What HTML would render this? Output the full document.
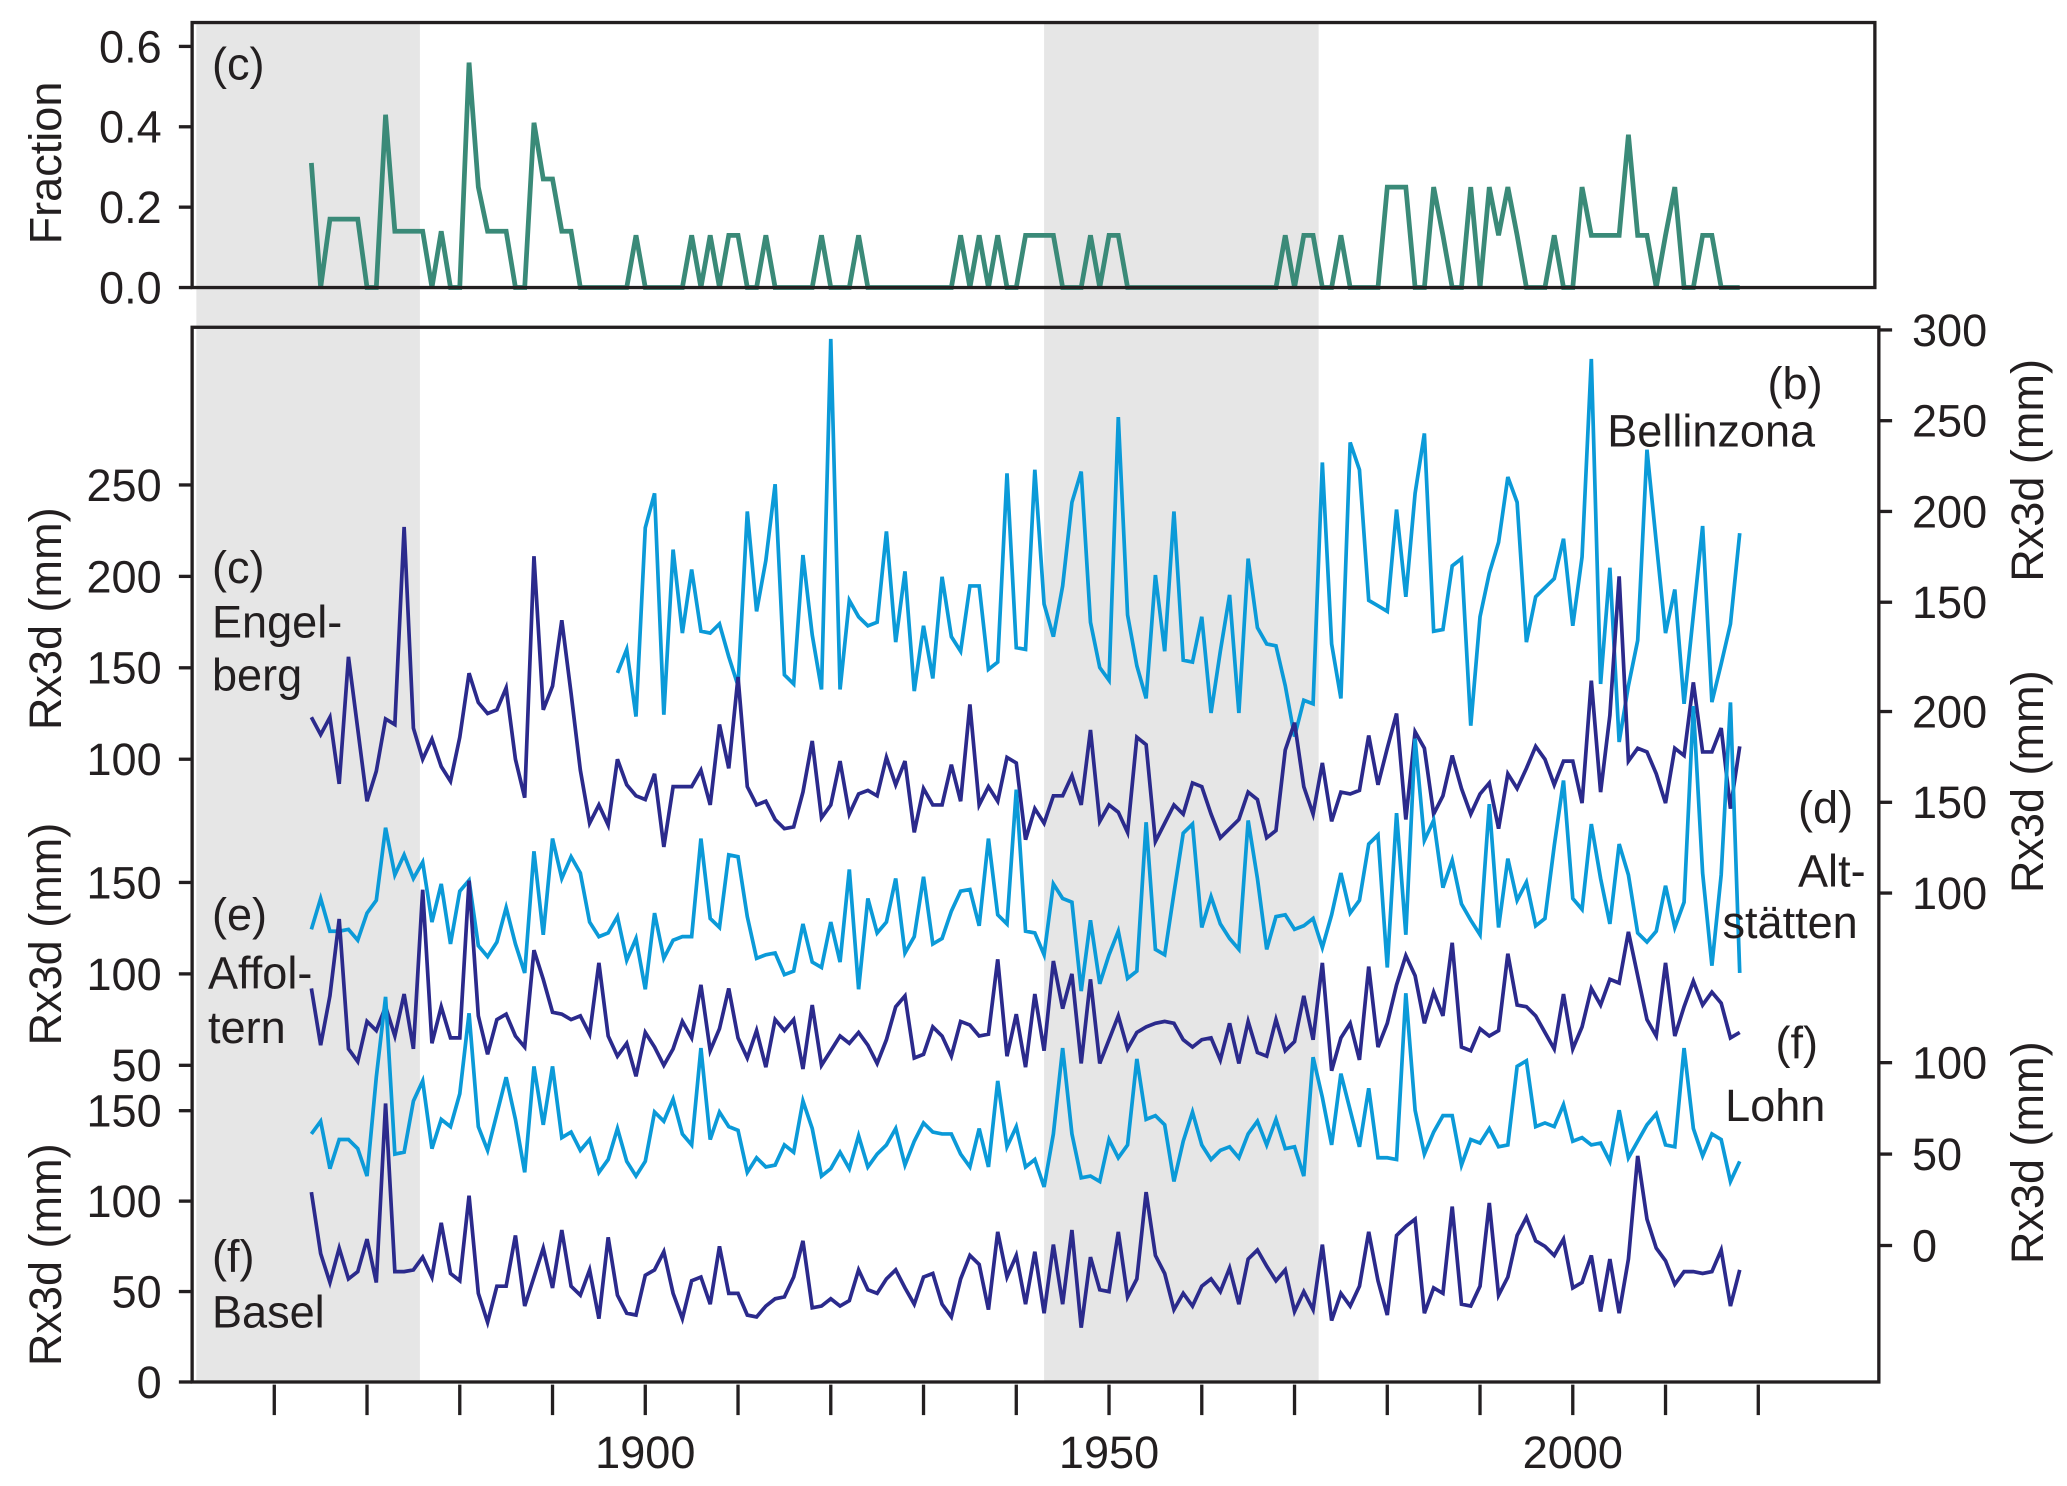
<!DOCTYPE html>
<html><head><meta charset="utf-8"><style>
html,body{margin:0;padding:0;background:#fff;}
svg{display:block;font-family:"Liberation Sans",Arial,sans-serif;}
</style></head><body>
<svg id="chart" width="2067" height="1486" viewBox="0 0 1560 1121.5" xmlns="http://www.w3.org/2000/svg">
<g id="bands"></g>
<g id="marks"></g>
<g id="axes"></g>
<g id="labels" font-size="34" fill="#231f20">
<text x="160" y="60">(c)</text>
<text x="160" y="440">(c)</text>
<text x="160" y="481">Engel-</text>
<text x="160" y="521">berg</text>
<text x="160" y="702">(e)</text>
<text x="157" y="746">Affol-</text>
<text x="157" y="787">tern</text>
<text x="160" y="960">(f)</text>
<text x="160" y="1002">Basel</text>
<text x="1334" y="301">(b)</text>
<text x="1213" y="337">Bellinzona</text>
<text x="1357" y="621">(d)</text>
<text x="1357" y="669">Alt-</text>
<text x="1300" y="708">stätten</text>
<text x="1340" y="799">(f)</text>
<text x="1302" y="846">Lohn</text>
</g>
</svg>
<script>
const startYear = 1864;
const bellStart = 1897;
const fraction = [.31,0,.17,.17,.17,.17,0,0,.43,.14,
.14,.14,.14,0,.14,0,0,.56,.25,.14,
.14,.14,0,0,.41,.27,.27,.14,.14,0,
0,0,0,0,0,.13,0,0,0,0,
0,.13,0,.13,0,.13,.13,0,0,.13,
0,0,0,0,0,.13,0,0,0,.13,
0,0,0,0,0,0,0,0,0,0,
.13,0,.13,0,.13,0,0,.13,.13,.13,
.13,0,0,0,.13,0,.13,.13,0,0,
0,0,0,0,0,0,0,0,0,0,
0,0,0,0,0,.13,0,.13,.13,0,
0,.13,0,0,0,0,.25,.25,.25,0,
0,.25,.13,0,0,.25,0,.25,.13,.25,
.13,0,0,0,.13,0,0,.25,.13,.13,
.13,.13,.38,.13,.13,0,.13,.25,0,0,
.13,.13,0,0,0];
const engelberg = [123,113.5,123,86.5,156,116.5,77,93.5,122,119,
227,117,100,111,96,88,112,147,131,125,
127,139,100,79,211,127,140,176,136,94,
65,75,64,100,86,80,78,92,52,85,
85,85,94,75,119,95,145,85,75,77,
67,62,63,82,110,68,75,99,70,81,
83,80,101,86,99,60,84,75,75,97,
77,130,75,85,77,101,98,56,73,65,
80,80,91,75,116,66,75,71,60,112,
108,55,65,75,70,87,85,70,57,62,
67,82,78,57,61,105,120,85,70,98,
66,82,81,83,113,86,106,125,67,115,
106,70,80,102,84,70,81,87,62,92,
84,95,107,100,86,99,99,76,143,82,
124,200,99,106,104,92,76,106,102,142,
104,104,117,73,107];
const bellinzona = [111,124,87,191,210,88,179,133,168,134,
133,138,120,104,200,145,173,215,110,105,
176,132,102,295,102,151,142,137,139,189,
128,167,101,137,108,164,131,123,159,159,
113,117,221,125,124,223,149,131,159,205,
222,139,114,107,252,143,115,97,165,123,
200,118,117,142,89,123,154,89,174,136,
127,126,104,76,96,94,227,127,97,238,
223,151,148,145,201,153,210,243,134,135,
170,174,82,142,166,183,219,205,128,153,
158,163,185,137,175,284,105,169,73,104,
129,234,183,133,157,94,143,192,95,116,
138,188];
const altstaetten = [80,97,79,79,80,74,89,96,136,110,
121,108,117,84,105,72,101,107,71,65,
73,92,72,56,123,77,130,108,120,111,
84,76,78,87,63,75,47,89,64,74,
76,76,130,86,81,121,120,87,64,66,
67,55,57,83,62,59,84,62,113,47,
97,78,84,108,67,76,109,72,75,90,
101,102,82,130,88,83,157,79,78,66,
105,97,95,46,85,50,66,79,53,57,
139,69,66,100,133,138,81,98,83,75,
69,140,108,69,87,88,80,82,86,70,
88,111,89,96,127,132,59,144,77,185,
129,140,103,118,94,85,77,149,81,119,
96,106,82,86,126,162,97,91,138,108,
83,127,110,78,73,79,104,81,95,203,
111,60,110,205,56];
const affoltern = [92,61,88,130,59,52,74,69,82,66,
89,59,146,62,82,65,65,151,77,56,
75,78,66,60,113,97,79,78,75,77,
67,106,66,55,62,44,68,60,50,59,
74,65,94,58,70,92,65,54,69,49,
75,69,75,48,83,50,58,66,62,68,
61,51,64,82,88,54,56,71,66,55,
74,72,66,67,108,55,78,49,89,58,
107,81,100,51,97,51,64,77,59,68,
71,73,74,73,64,60,64,65,53,73,
51,74,57,55,75,58,63,88,64,106,
47,65,73,53,104,60,73,94,110,99,
73,90,77,117,60,58,70,66,69,111,
83,82,77,68,59,89,59,71,92,83,
97,95,123,99,75,66,106,66,82,96,
83,90,84,65,68];
const lohn = [61,68,42,58,58,53,38,92,136,50,
51,79,90,53,69,65,83,127,65,52,
72,92,69,40,98,66,98,59,62,52,
58,40,47,64,46,38,46,73,68,80,
61,55,108,58,73,65,63,40,48,43,
44,55,51,79,64,38,42,51,42,60,
43,50,55,64,44,57,67,62,61,61,
50,43,64,43,90,54,65,43,47,32,
61,108,61,37,38,35,58,48,55,102,
69,71,66,35,57,73,55,47,52,54,
48,61,68,55,69,53,54,38,103,81,
55,94,74,54,86,48,48,47,138,74,
50,62,71,71,44,58,56,64,54,55,
98,101,65,67,65,77,57,59,55,56,
46,74,48,57,66,72,55,54,108,64,
49,61,58,35,46];
const basel = [105,71,55,74,57,61,79,55,154,61,
61,62,69,58,88,60,56,103,49,33,
53,53,81,42,58,74,52,84,53,48,
62,35,80,48,38,37,59,62,72,49,
35,56,58,43,75,49,49,37,36,42,
46,47,58,78,41,42,46,42,45,62,
51,49,57,62,52,43,58,60,43,36,
57,70,65,40,83,58,70,43,72,38,
76,43,84,30,69,51,50,83,47,57,
105,70,60,40,49,42,53,57,50,63,
43,68,73,64,56,62,39,50,40,76,
34,49,42,53,83,56,37,81,86,90,
38,52,49,97,43,42,53,99,48,58,
81,91,78,75,70,79,52,55,70,39,
68,38,68,125,90,74,67,54,61,61,
60,61,73,42,62];
const xTicks = [1860,1870,1880,1890,1900,1910,1920,1930,1940,1950,1960,1970,1980,1990,2000,2010,2020];
const xTickLabels = [1900,1950,2000];
const fracTicks = [0.0,0.2,0.4,0.6];
const engTicks = [100,150,200,250];
const affTicks = [50,100,150];
const basTicks = [0,50,100,150];
const belTicks = [150,200,250,300];
const altTicks = [100,150,200];
const lohTicks = [0,50,100];
const bandYears = [[1851.6,1875.7],[1943,1972.6]];

const NS = "http://www.w3.org/2000/svg";
const X = y => 487 + (y - 1900) * 7;
const yFrac = v => 217 - v * 303.3;
const yEng = v => 573 - (v - 100) * 1.38;
const yAff = v => 735 - (v - 100) * 1.38;
const yBas = v => 1043 - v * 1.365;
const yBel = v => 249 + (300 - v) * 1.37;
const yAlt = v => 537 + (200 - v) * 1.37;
const yLoh = v => 940 - v * 1.38;
const DARK = "#2b2a8c", CYAN = "#0b9ad8", GREEN = "#3a8a78";

function mk(tag, attrs, parent) {
  const e = document.createElementNS(NS, tag);
  for (const k in attrs) e.setAttribute(k, attrs[k]);
  parent.appendChild(e);
  return e;
}
const bands = document.getElementById('bands');
const marks = document.getElementById('marks');
const axes = document.getElementById('axes');

bandYears.forEach(b => {
  const r = mk('rect', {x: X(b[0]), y: 17, width: X(b[1]) - X(b[0]), height: 1026, fill: '#e6e6e6'}, bands);
  
  
});

function line(data, start, yf, color, name, w) {
  const d = data.map((v, i) => (i ? 'L' : 'M') + X(start + i).toFixed(1) + ',' + yf(v).toFixed(1)).join('');
  const p = mk('path', {d: d, fill: 'none', stroke: color, 'stroke-width': w, 'stroke-linejoin': 'miter'}, marks);
  
  
}
line(fraction, startYear, yFrac, GREEN, 'fraction-line', 3.6);
line(bellinzona, bellStart, yBel, CYAN, 'bellinzona-line', 2.8);
line(engelberg, startYear, yEng, DARK, 'engelberg-line', 2.8);
line(altstaetten, startYear, yAlt, CYAN, 'altstaetten-line', 2.8);
line(affoltern, startYear, yAff, DARK, 'affoltern-line', 2.8);
line(lohn, startYear, yLoh, CYAN, 'lohn-line', 2.8);
line(basel, startYear, yBas, DARK, 'basel-line', 2.8);

const f1 = mk('rect', {x: 145, y: 17, width: 1270, height: 200, fill: 'none', stroke: '#231f20', 'stroke-width': 2.5}, axes);


const f2 = mk('rect', {x: 145, y: 247, width: 1273, height: 796, fill: 'none', stroke: '#231f20', 'stroke-width': 2.5}, axes);



function txt(s, x, y, anchor, name, rot) {
  const t = mk('text', {x: x, y: y, 'text-anchor': anchor, 'font-size': 34, fill: '#231f20'}, axes);
  if (rot) t.setAttribute('transform', 'rotate(-90 ' + x + ' ' + y + ')');
  t.textContent = s;
  
  
}
xTicks.forEach(t => {
  const l = mk('line', {x1: X(t), x2: X(t), y1: 1045, y2: 1068, stroke: '#231f20', 'stroke-width': 2.5}, axes);
  
  
});
xTickLabels.forEach(t => txt(String(t), X(t), 1108, 'middle', 'x-tick-label'));

function leftAxis(ticks, yf, fmt) {
  ticks.forEach(t => {
    const l = mk('line', {x1: 135, x2: 145, y1: yf(t), y2: yf(t), stroke: '#231f20', 'stroke-width': 2.5}, axes);
    
    
    txt(fmt ? t.toFixed(1) : String(t), 122, yf(t) + 12, 'end', 'left-y-tick-label');
  });
}
function rightAxis(ticks, yf) {
  ticks.forEach(t => {
    const l = mk('line', {x1: 1418, x2: 1428, y1: yf(t), y2: yf(t), stroke: '#231f20', 'stroke-width': 2.5}, axes);
    
    
    txt(String(t), 1443, yf(t) + 12, 'start', 'right-y-tick-label');
  });
}
leftAxis(fracTicks, yFrac, true);
leftAxis(engTicks, yEng);
leftAxis(affTicks, yAff);
leftAxis(basTicks, yBas);
rightAxis(belTicks, yBel);
rightAxis(altTicks, yAlt);
rightAxis(lohTicks, yLoh);

txt('Fraction', 46, 123, 'middle', 'fraction-axis-title', true);
txt('Rx3d (mm)', 46, 467, 'middle', 'engelberg-axis-title', true);
txt('Rx3d (mm)', 46, 705, 'middle', 'affoltern-axis-title', true);
txt('Rx3d (mm)', 46, 947, 'middle', 'basel-axis-title', true);
txt('Rx3d (mm)', 1542, 355, 'middle', 'bellinzona-axis-title', true);
txt('Rx3d (mm)', 1542, 590, 'middle', 'altstaetten-axis-title', true);
txt('Rx3d (mm)', 1542, 870, 'middle', 'lohn-axis-title', true);
</script>
</body></html>
